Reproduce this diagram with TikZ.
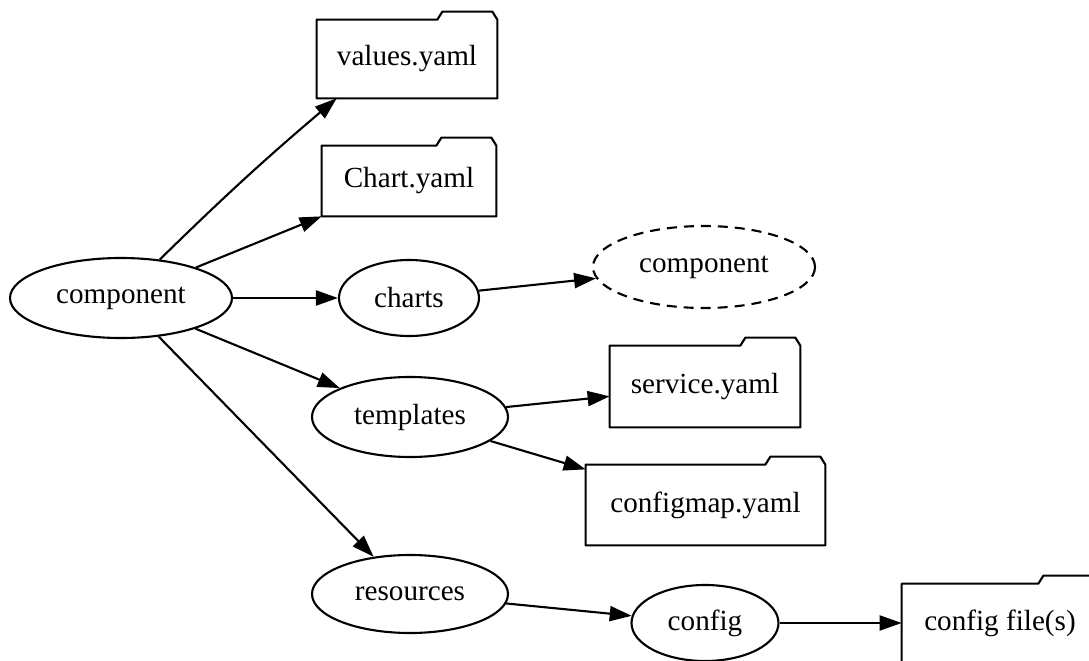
\documentclass[tikz,border=0pt]{standalone}
\usepackage{fontspec}
\setmainfont{Liberation Serif}
\usetikzlibrary{arrows.meta, shapes.geometric}
\tikzset{
  dirnode/.style={ellipse, draw, line width=1.2pt, inner sep=0pt},
  filenode/.style={rectangle, inner sep=0pt,
    append after command={\pgfextra{\draw[line width=1.2pt, line join=round]
      (\tikzlastnode.south west) -- (\tikzlastnode.north west)
      -- ([xshift=-1.2cm]\tikzlastnode.north east) -- ++(0.1,0.16)
      -- ([xshift=-0.1cm,yshift=0.16cm]\tikzlastnode.north east)
      -- (\tikzlastnode.north east) -- (\tikzlastnode.south east) -- cycle;}}},
  link/.style={line width=1.2pt, -{Triangle[length=4.4mm, width=3mm]}}
}

\begin{document}
\begin{tikzpicture}[font=\fontsize{16.6}{20}\selectfont]
\useasboundingbox (0,0) rectangle (21.78,-13.22);
\node[dirnode, minimum width=4.44cm, minimum height=1.6cm] (comp) at (2.42,-5.96) {component};
\node[dirnode, minimum width=2.8cm, minimum height=1.52cm] (charts) at (8.18,-5.96) {charts};
\node[dirnode, dashed, dash pattern=on 2mm off 1.4mm, minimum width=4.44cm, minimum height=1.64cm] (sub) at (14.08,-5.34) {component};
\node[dirnode, minimum width=3.92cm, minimum height=1.6cm] (templates) at (8.2,-8.34) {templates};
\node[dirnode, minimum width=3.92cm, minimum height=1.56cm] (resources) at (8.2,-11.88) {resources};
\node[dirnode, minimum width=2.94cm, minimum height=1.52cm] (config) at (14.1,-12.46) {config};
\node[filenode, minimum width=3.6cm, minimum height=1.56cm] (values) at (8.14,-1.18) {values.yaml};
\node[filenode, minimum width=3.48cm, minimum height=1.4cm] (chart) at (8.18,-3.62) {Chart.yaml};
\node[filenode, minimum width=3.8cm, minimum height=1.62cm] (service) at (14.1,-7.73) {service.yaml};
\node[filenode, minimum width=4.78cm, minimum height=1.6cm] (configmap) at (14.11,-10.1) {configmap.yaml};
\node[filenode, minimum width=3.92cm, minimum height=1.56cm] (files) at (20,-12.46) {config file(s)};
\draw[link] (comp) to[bend left=2] ([xshift=4mm]values.south west);
\draw[link] (comp) -- (chart.south west);
\draw[link] (comp) -- (charts);
\draw[link] (charts) -- (sub);
\draw[link] (comp) -- (templates);
\draw[link] (templates) -- (service);
\draw[link] (templates) -- (configmap);
\draw[link] (comp) -- (resources);
\draw[link] (resources) -- (config);
\draw[link] (config) -- (files);
\end{tikzpicture}
\end{document}
